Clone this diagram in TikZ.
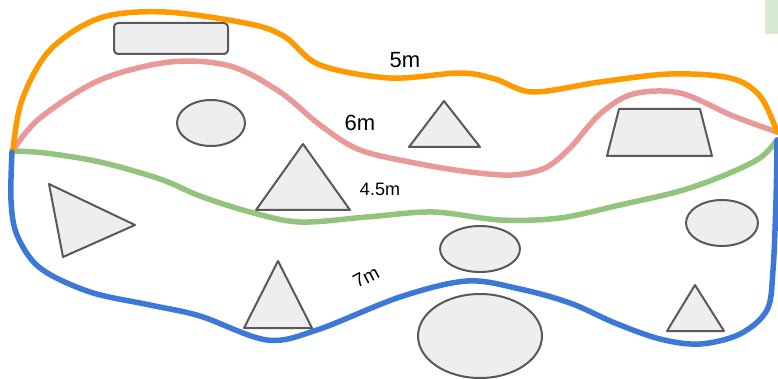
\documentclass[tikz,border=0pt]{standalone}
\usepackage{fontspec}
\setmainfont{Liberation Sans}
\definecolor{routeorange}{HTML}{FF9900}
\definecolor{routepink}{HTML}{EA9999}
\definecolor{routegreen}{HTML}{93C47D}
\definecolor{routeblue}{HTML}{3C78D8}
\definecolor{obstfill}{HTML}{EEEEEE}
\definecolor{obstline}{HTML}{595959}
\definecolor{tabgreen}{HTML}{D9EAD3}
\tikzset{
  route/.style={line width=5.5pt, line cap=round, line join=round},
  obstacle/.style={draw=obstline, fill=obstfill, line width=2pt, line join=round},
  dist/.style={inner sep=0pt, text=black},
}
\begin{document}
\begin{tikzpicture}[x=1pt, y=-1pt]
\useasboundingbox (0,0) rectangle (778,379);
\fill[tabgreen] (765,0) rectangle (778,34);

% obstacles
\draw[obstacle, rounded corners=4pt] (114,23) rectangle (228,54);
\draw[obstacle] (211,123) ellipse [x radius=34, y radius=23];
\draw[obstacle] (303,144) -- (350,210) -- (256,210) -- cycle;
\draw[obstacle] (444,101) -- (480,147) -- (409,147) -- cycle;
\draw[obstacle] (619,109) -- (700,109) -- (712,156) -- (607,156) -- cycle;
\draw[obstacle] (49,184) -- (135,225) -- (63,257) -- cycle;
\draw[obstacle] (722,223) ellipse [x radius=36, y radius=23];
\draw[obstacle] (695,285) -- (724,331) -- (667,331) -- cycle;
\draw[obstacle] (480,249) ellipse [x radius=40, y radius=23];
\draw[obstacle] (480,336) ellipse [x radius=62, y radius=42];
\draw[obstacle] (278,261) -- (312,328) -- (244,328) -- cycle;

% routes
\draw[route, routegreen] plot[smooth, tension=0.55] coordinates {
  (12,151) (45,153) (100,162) (160,179) (200,196) (250,212) (300,222)
  (367,217) (433,212) (500,220) (560,218) (620,205) (680,191) (725,175)
  (760,158) (777,140)};
\draw[route, routepink] plot[smooth, tension=0.55] coordinates {
  (13,150) (40,118) (100,80) (170,62) (230,66) (280,92) (320,125)
  (360,150) (420,164) (470,172) (512,175) (545,168) (570,148) (600,114)
  (633,94) (680,93) (733,116) (777,132)};
\draw[route, routeorange] plot[smooth, tension=0.55] coordinates {
  (13,150) (22,100) (50,50) (100,18) (165,12) (250,24) (285,37)
  (320,65) (390,78) (460,73) (495,79) (533,92) (600,82) (670,74)
  (730,78) (760,96) (777,132)};
\draw[route, routeblue] plot[smooth, tension=0.55] coordinates {
  (12,152) (11,200) (17,235) (40,268) (90,292) (150,305) (200,316)
  (267,340) (317,330) (400,297) (467,281) (520,289) (570,303) (615,323)
  (660,339) (700,344) (740,334) (767,310) (773,270) (776,200) (777,140)};

% distance labels
\node[dist, font=\fontsize{22}{26}\selectfont] (d5) at (405,60) {5m};
\node[dist, font=\fontsize{22}{26}\selectfont] (d6) at (360,123) {6m};
\node[dist, font=\fontsize{18}{22}\selectfont] (d45) at (380,189) {4.5m};
\node[dist, font=\fontsize{19}{23}\selectfont, rotate=28] (d7) at (366,277) {7m};
\end{tikzpicture}
\end{document}
